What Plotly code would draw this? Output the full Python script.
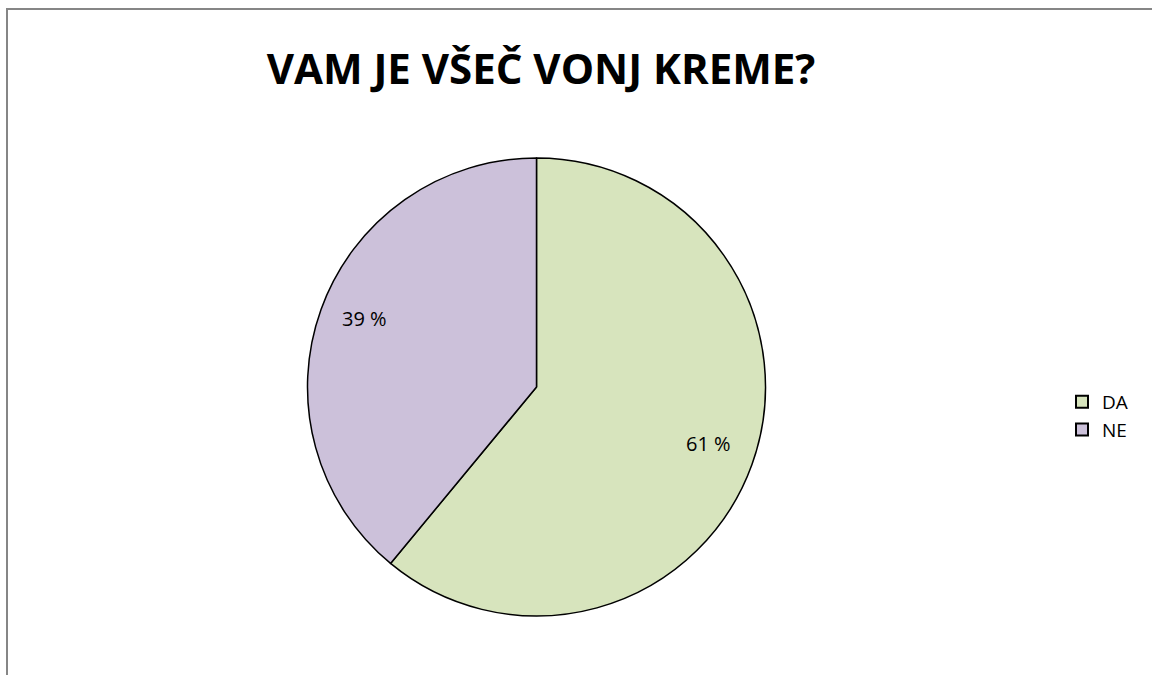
import math
import plotly.graph_objects as go

labels = ["DA", "NE"]
values = [61, 39]
colors = ["#d7e4bd", "#ccc1da"]
title_text = "VAM JE VŠEČ VONJ KREME?"

total = sum(values)
texts = [f"{round(v / total * 100)} %" for v in values]

W, H = 1152, 675
mt, mb = 158, 59
ph = H - mt - mb
dom_x = [307 / W, 766 / W]

fig = go.Figure(go.Pie(
    labels=labels,
    values=values,
    textinfo="none",
    sort=False,
    direction="clockwise",
    rotation=0,
    marker=dict(colors=colors, line=dict(color="#000000", width=1.5)),
    domain=dict(x=dom_x, y=[0, 1]),
    hoverinfo="label+percent",
))

# data labels placed along each slice's mid-angle (like Excel best-fit)
cx_px = (dom_x[0] + dom_x[1]) / 2 * W
cy_px = mt + ph / 2
r_px = ph / 2
annotations = []
cum = 0
for v, t in zip(values, texts):
    mid = (cum + v / 2) / total * 2 * math.pi
    cum += v
    px = cx_px + 0.8 * r_px * math.sin(mid)
    py = cy_px - 0.8 * r_px * math.cos(mid) - 6
    annotations.append(dict(x=px / W, y=(H - mb - py) / ph, xref="paper", yref="paper",
                            text=t, showarrow=False, xanchor="center", yanchor="middle",
                            font=dict(family="Open Sans", size=20, color="#000000")))

fig.update_layout(
    width=W, height=H,
    margin=dict(l=0, r=0, t=mt, b=mb),
    paper_bgcolor="white",
    plot_bgcolor="white",
    title=dict(text=f"<b>{title_text}</b>", x=541 / W, xanchor="center",
               y=1 - 69 / H, yanchor="middle",
               font=dict(family="Open Sans", size=42, color="#000000")),
    legend=dict(x=1062 / W, xanchor="left", y=(H - mb - 416) / ph, yanchor="middle",
                font=dict(family="Open Sans", size=19, color="#000000"),
                itemsizing="constant", itemwidth=30),
    annotations=annotations,
    shapes=[dict(type="rect", xref="paper", yref="paper",
                 x0=7 / W, x1=1.1, y0=-0.3, y1=(H - mb - 9) / ph,
                 line=dict(color="#868686", width=2), fillcolor="rgba(0,0,0,0)", layer="below")],
)

fig.write_html("out.html", config={"displayModeBar": False},
               post_script="document.body.style.margin='0px';")
